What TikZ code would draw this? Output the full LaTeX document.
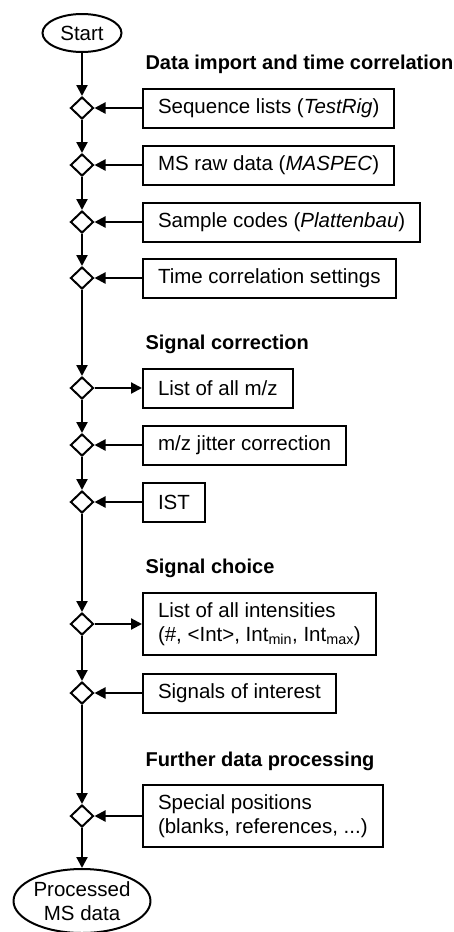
\documentclass[tikz,border=0pt]{standalone}
\usepackage{fontspec}
\setmainfont{Liberation Sans}
\usetikzlibrary{shapes.geometric,arrows.meta}

\begin{document}
\begin{tikzpicture}[x=1pt,y=-1pt,
  font=\fontsize{20.5pt}{24pt}\selectfont,
  term/.style={draw,ellipse,line width=2pt,inner sep=0pt,align=center},
  junction/.style={draw,diamond,line width=2pt,minimum width=23pt,minimum height=22pt,inner sep=0pt},
  databox/.style={draw,rectangle,line width=2pt,anchor=west,align=left,inner xsep=15pt,inner ysep=9pt,minimum height=39pt},
  heading/.style={anchor=base west,font=\fontsize{20pt}{24pt}\selectfont\bfseries},
  flow/.style={line width=2.2pt,-{Triangle[length=11pt,width=11pt]}}]
\useasboundingbox (0,0) rectangle (453,932);
\node[term,minimum width=79pt,minimum height=38pt] (start) at (82,33) {Start};
\node[term,minimum width=131pt,minimum height=64pt] (result) at (82,901) {Processed\\MS data};
% data import and time correlation
\node[heading] (h1) at (142,69) {Data import and time correlation};
\node[junction] (d1) at (82,108) {};
\node[junction] (d2) at (82,165) {};
\node[junction] (d3) at (82,222) {};
\node[junction] (d4) at (82,278) {};
\node[databox] (b1) at (142,108) {Sequence lists (\textit{TestRig})};
\node[databox] (b2) at (142,165) {MS raw data (\textit{MASPEC})};
\node[databox] (b3) at (142,222) {Sample codes (\textit{Plattenbau})};
\node[databox] (b4) at (142,278) {Time correlation settings};
% signal correction
\node[heading] (h2) at (142,349) {Signal correction};
\node[junction] (d5) at (82,388) {};
\node[junction] (d6) at (82,445) {};
\node[junction] (d7) at (82,502) {};
\node[databox] (b5) at (142,388) {List of all m/z};
\node[databox] (b6) at (142,445) {m/z jitter correction};
\node[databox] (b7) at (142,502) {IST};
% signal choice
\node[heading] (h3) at (142,573) {Signal choice};
\node[junction] (d8) at (82,624) {};
\node[junction] (d9) at (82,693) {};
\node[databox] (b8) at (142,624) {List of all intensities\\(\#, <Int>, Int\textsubscript{min}, Int\textsubscript{max})};
\node[databox] (b9) at (142,693) {Signals of interest};
% further data processing
\node[heading] (h4) at (142,766) {Further data processing};
\node[junction] (d10) at (82,816) {};
\node[databox] (b10) at (142,816) {Special positions\\(blanks, references, ...)};
% main line
\draw[flow] (start) -- (d1);
\draw[flow] (d1) -- (d2);
\draw[flow] (d2) -- (d3);
\draw[flow] (d3) -- (d4);
\draw[flow] (d4) -- (d5);
\draw[flow] (d5) -- (d6);
\draw[flow] (d6) -- (d7);
\draw[flow] (d7) -- (d8);
\draw[flow] (d8) -- (d9);
\draw[flow] (d9) -- (d10);
\draw[flow] (d10) -- (result);
% side inputs and outputs
\draw[flow] (b1.west) -- (d1.east);
\draw[flow] (b2.west) -- (d2.east);
\draw[flow] (b3.west) -- (d3.east);
\draw[flow] (b4.west) -- (d4.east);
\draw[flow] (d5.east) -- (b5.west);
\draw[flow] (b6.west) -- (d6.east);
\draw[flow] (b7.west) -- (d7.east);
\draw[flow] (d8.east) -- (b8.west);
\draw[flow] (b9.west) -- (d9.east);
\draw[flow] (b10.west) -- (d10.east);
\end{tikzpicture}
\end{document}
